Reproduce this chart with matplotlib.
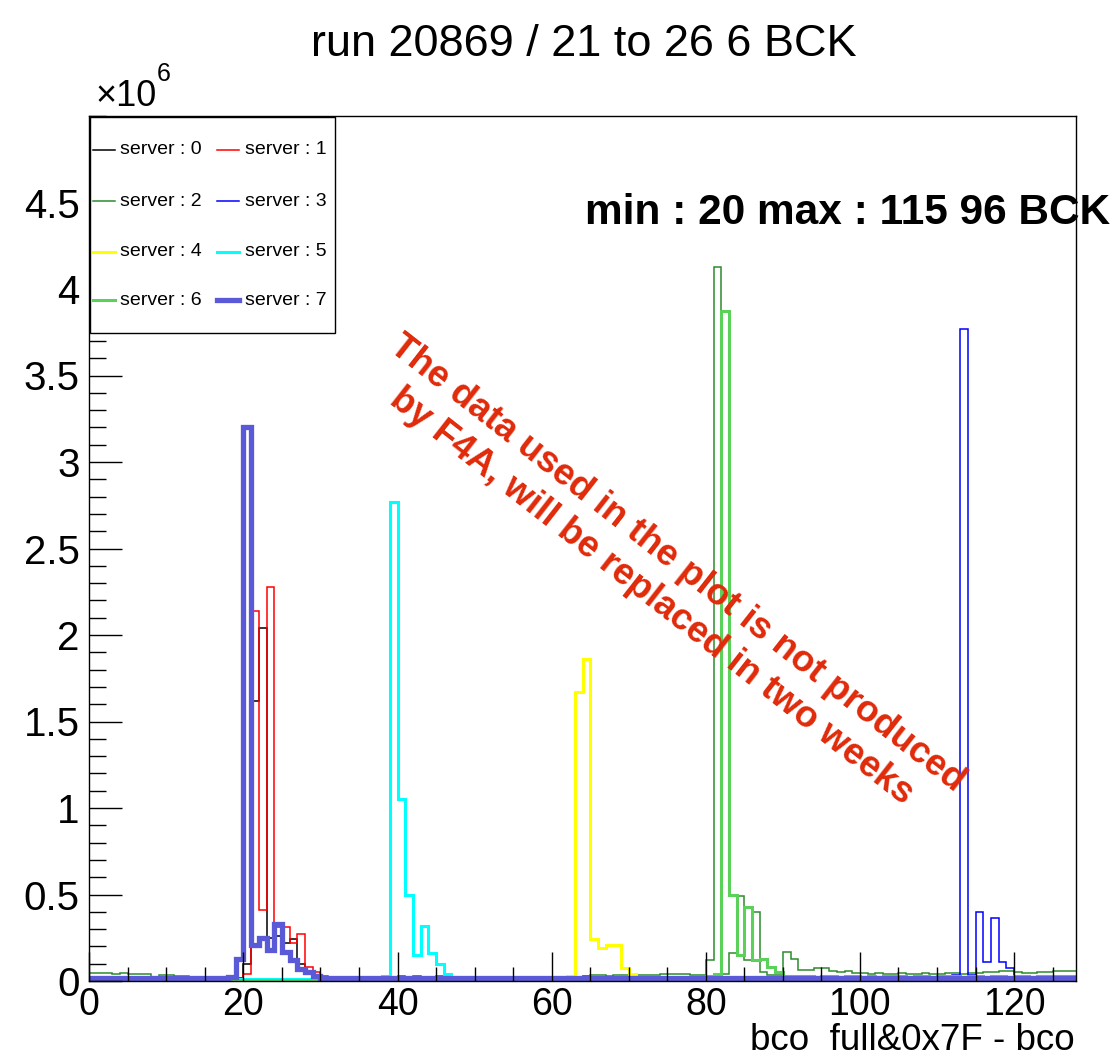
import numpy as np
import matplotlib
matplotlib.use("Agg")
import matplotlib.pyplot as plt
from matplotlib.lines import Line2D
from matplotlib.patches import Rectangle
from matplotlib.ticker import MultipleLocator, FixedLocator

plt.rcParams['font.family'] = ['Liberation Sans', 'DejaVu Sans']

# ---------------- data (values in units of 1e6 entries per bin) ----------------
bin_edges = list(range(0, 129))  # 128 bins of width 1 from 0 to 128

server0 = [
    0.01, 0.01, 0.01, 0.01, 0.01, 0.01, 0.01, 0.01, 0.01, 0.01, 0.01, 0.01, 0.01, 0.01, 0.01, 0.01,
    0.01, 0.01, 0.01, 0.02, 0.10, 1.62, 2.04, 0.25, 0.26, 0.22, 0.24, 0.10, 0.06, 0.03, 0.01, 0.01,
    0.01, 0.01, 0.01, 0.01, 0.01, 0.01, 0.01, 0.01, 0.01, 0.01, 0.01, 0.01, 0.01, 0.01, 0.01, 0.01,
    0.01, 0.01, 0.01, 0.01, 0.01, 0.01, 0.01, 0.01, 0.01, 0.01, 0.01, 0.01, 0.01, 0.01, 0.01, 0.01,
    0.01, 0.01, 0.01, 0.01, 0.01, 0.01, 0.01, 0.01, 0.01, 0.01, 0.01, 0.01, 0.01, 0.01, 0.01, 0.01,
    0.01, 0.01, 0.01, 0.01, 0.01, 0.01, 0.01, 0.01, 0.01, 0.01, 0.01, 0.01, 0.01, 0.01, 0.01, 0.01,
    0.01, 0.01, 0.01, 0.01, 0.01, 0.01, 0.01, 0.01, 0.01, 0.01, 0.01, 0.01, 0.01, 0.01, 0.01, 0.01,
    0.01, 0.01, 0.01, 0.01, 0.01, 0.01, 0.01, 0.01, 0.01, 0.01, 0.01, 0.01, 0.01, 0.01, 0.01, 0.01,
]
server1 = [
    0.01, 0.01, 0.01, 0.01, 0.01, 0.01, 0.01, 0.01, 0.01, 0.01, 0.01, 0.01, 0.01, 0.01, 0.01, 0.01,
    0.01, 0.01, 0.01, 0.02, 0.04, 2.14, 0.41, 2.28, 0.31, 0.31, 0.22, 0.27, 0.08, 0.05, 0.03, 0.02,
    0.02, 0.02, 0.02, 0.02, 0.02, 0.02, 0.02, 0.02, 0.03, 0.02, 0.03, 0.02, 0.02, 0.03, 0.02, 0.02,
    0.02, 0.02, 0.02, 0.02, 0.02, 0.02, 0.02, 0.02, 0.02, 0.02, 0.02, 0.02, 0.02, 0.02, 0.02, 0.02,
    0.03, 0.01, 0.01, 0.01, 0.01, 0.01, 0.01, 0.01, 0.01, 0.01, 0.01, 0.01, 0.01, 0.01, 0.01, 0.01,
    0.01, 0.01, 0.01, 0.01, 0.01, 0.01, 0.01, 0.01, 0.01, 0.01, 0.01, 0.01, 0.01, 0.01, 0.01, 0.01,
    0.01, 0.01, 0.01, 0.01, 0.01, 0.01, 0.01, 0.01, 0.01, 0.01, 0.01, 0.01, 0.01, 0.01, 0.01, 0.01,
    0.01, 0.01, 0.01, 0.01, 0.01, 0.01, 0.01, 0.01, 0.01, 0.01, 0.01, 0.01, 0.01, 0.01, 0.01, 0.01,
]
server2 = [
    0.045, 0.045, 0.045, 0.040, 0.045, 0.040, 0.040, 0.040, 0.020, 0.035, 0.035, 0.030, 0.030, 0.020, 0.020, 0.015,
    0.010, 0.010, 0.010, 0.005, 0.005, 0.005, 0.005, 0.005, 0.005, 0.005, 0.005, 0.005, 0.005, 0.005, 0.005, 0.005,
    0.005, 0.005, 0.005, 0.005, 0.005, 0.005, 0.005, 0.005, 0.005, 0.005, 0.005, 0.005, 0.005, 0.005, 0.005, 0.005,
    0.005, 0.005, 0.005, 0.005, 0.005, 0.005, 0.005, 0.005, 0.005, 0.005, 0.005, 0.005, 0.010, 0.015, 0.020, 0.025,
    0.030, 0.035, 0.035, 0.030, 0.035, 0.035, 0.035, 0.035, 0.035, 0.035, 0.040, 0.040, 0.040, 0.040, 0.035, 0.035,
    0.120, 4.130, 0.040, 0.160, 0.490, 0.120, 0.400, 0.050, 0.035, 0.035, 0.170, 0.130, 0.065, 0.065, 0.075, 0.075,
    0.060, 0.050, 0.055, 0.045, 0.045, 0.040, 0.045, 0.040, 0.040, 0.045, 0.040, 0.040, 0.045, 0.040, 0.040, 0.045,
    0.045, 0.040, 0.045, 0.045, 0.050, 0.050, 0.055, 0.055, 0.050, 0.045, 0.045, 0.050, 0.050, 0.055, 0.055, 0.055,
]
server3 = [
    0.010, 0.010, 0.010, 0.010, 0.010, 0.020, 0.020, 0.020, 0.010, 0.010, 0.010, 0.010, 0.010, 0.010, 0.010, 0.010,
    0.010, 0.010, 0.010, 0.010, 0.010, 0.010, 0.010, 0.010, 0.010, 0.010, 0.010, 0.010, 0.010, 0.010, 0.010, 0.010,
    0.010, 0.010, 0.010, 0.010, 0.010, 0.010, 0.010, 0.010, 0.010, 0.010, 0.010, 0.010, 0.010, 0.010, 0.010, 0.010,
    0.010, 0.010, 0.010, 0.010, 0.010, 0.010, 0.010, 0.010, 0.010, 0.010, 0.010, 0.010, 0.010, 0.010, 0.010, 0.010,
    0.010, 0.010, 0.010, 0.010, 0.010, 0.010, 0.010, 0.010, 0.010, 0.010, 0.010, 0.010, 0.010, 0.010, 0.010, 0.010,
    0.010, 0.010, 0.010, 0.010, 0.010, 0.010, 0.010, 0.010, 0.010, 0.010, 0.010, 0.010, 0.010, 0.010, 0.010, 0.010,
    0.010, 0.010, 0.010, 0.010, 0.010, 0.010, 0.010, 0.010, 0.010, 0.010, 0.010, 0.010, 0.010, 0.010, 0.010, 0.015,
    0.035, 3.770, 0.035, 0.400, 0.110, 0.365, 0.110, 0.073, 0.020, 0.015, 0.015, 0.015, 0.015, 0.015, 0.015, 0.015,
]
server4 = [
    0.005, 0.005, 0.005, 0.005, 0.005, 0.005, 0.005, 0.005, 0.005, 0.005, 0.005, 0.005, 0.005, 0.005, 0.005, 0.005,
    0.005, 0.005, 0.005, 0.005, 0.005, 0.005, 0.005, 0.005, 0.005, 0.005, 0.005, 0.005, 0.005, 0.005, 0.005, 0.005,
    0.005, 0.005, 0.005, 0.005, 0.005, 0.005, 0.005, 0.005, 0.005, 0.005, 0.005, 0.005, 0.005, 0.005, 0.005, 0.005,
    0.005, 0.005, 0.005, 0.005, 0.005, 0.005, 0.005, 0.005, 0.010, 0.010, 0.010, 0.010, 0.010, 0.015, 0.030, 1.670,
    1.860, 0.240, 0.190, 0.210, 0.210, 0.075, 0.040, 0.015, 0.010, 0.010, 0.010, 0.010, 0.010, 0.010, 0.010, 0.010,
    0.010, 0.010, 0.010, 0.010, 0.015, 0.020, 0.015, 0.010, 0.010, 0.010, 0.010, 0.010, 0.010, 0.010, 0.010, 0.010,
    0.010, 0.010, 0.010, 0.010, 0.015, 0.015, 0.010, 0.010, 0.010, 0.010, 0.010, 0.010, 0.010, 0.010, 0.010, 0.010,
    0.010, 0.010, 0.010, 0.010, 0.015, 0.010, 0.010, 0.010, 0.010, 0.010, 0.010, 0.010, 0.010, 0.010, 0.010, 0.010,
]
server5 = [
    0.005, 0.005, 0.005, 0.005, 0.005, 0.005, 0.005, 0.005, 0.005, 0.005, 0.005, 0.005, 0.005, 0.005, 0.005, 0.005,
    0.005, 0.005, 0.005, 0.010, 0.010, 0.010, 0.010, 0.010, 0.010, 0.010, 0.010, 0.010, 0.010, 0.010, 0.010, 0.010,
    0.010, 0.010, 0.010, 0.010, 0.010, 0.010, 0.030, 2.770, 1.050, 0.500, 0.150, 0.320, 0.160, 0.100, 0.040, 0.025,
    0.010, 0.010, 0.010, 0.010, 0.010, 0.010, 0.010, 0.010, 0.010, 0.010, 0.010, 0.010, 0.010, 0.010, 0.010, 0.010,
    0.015, 0.020, 0.020, 0.015, 0.010, 0.010, 0.010, 0.010, 0.010, 0.010, 0.010, 0.010, 0.010, 0.010, 0.010, 0.010,
    0.015, 0.015, 0.015, 0.010, 0.010, 0.010, 0.010, 0.010, 0.010, 0.010, 0.010, 0.010, 0.010, 0.010, 0.010, 0.010,
    0.010, 0.010, 0.010, 0.010, 0.010, 0.010, 0.010, 0.010, 0.010, 0.010, 0.010, 0.010, 0.010, 0.010, 0.010, 0.010,
    0.010, 0.010, 0.010, 0.010, 0.010, 0.010, 0.010, 0.010, 0.010, 0.010, 0.010, 0.010, 0.010, 0.010, 0.010, 0.010,
]
server6 = [
    0.005, 0.005, 0.005, 0.005, 0.005, 0.005, 0.005, 0.005, 0.005, 0.005, 0.005, 0.005, 0.005, 0.005, 0.005, 0.005,
    0.005, 0.005, 0.005, 0.005, 0.005, 0.005, 0.005, 0.005, 0.005, 0.005, 0.005, 0.005, 0.005, 0.005, 0.005, 0.005,
    0.005, 0.005, 0.005, 0.005, 0.005, 0.005, 0.005, 0.005, 0.005, 0.005, 0.005, 0.005, 0.005, 0.005, 0.005, 0.005,
    0.005, 0.005, 0.005, 0.005, 0.005, 0.005, 0.005, 0.005, 0.010, 0.010, 0.010, 0.010, 0.015, 0.015, 0.015, 0.020,
    0.020, 0.020, 0.020, 0.020, 0.020, 0.020, 0.020, 0.020, 0.025, 0.020, 0.025, 0.020, 0.025, 0.025, 0.025, 0.025,
    0.030, 0.040, 3.870, 0.500, 0.150, 0.430, 0.120, 0.127, 0.083, 0.054, 0.030, 0.030, 0.030, 0.030, 0.025, 0.030,
    0.030, 0.025, 0.030, 0.030, 0.025, 0.030, 0.025, 0.030, 0.030, 0.030, 0.025, 0.030, 0.030, 0.025, 0.030, 0.030,
    0.030, 0.025, 0.030, 0.030, 0.025, 0.030, 0.030, 0.025, 0.030, 0.030, 0.025, 0.030, 0.030, 0.030, 0.030, 0.030,
]
server7 = [
    0.020, 0.020, 0.020, 0.020, 0.020, 0.020, 0.020, 0.020, 0.020, 0.020, 0.020, 0.020, 0.020, 0.020, 0.020, 0.020,
    0.020, 0.020, 0.025, 0.130, 3.200, 0.210, 0.250, 0.180, 0.330, 0.170, 0.120, 0.070, 0.050, 0.030, 0.020, 0.020,
    0.020, 0.020, 0.020, 0.020, 0.020, 0.020, 0.020, 0.020, 0.020, 0.020, 0.020, 0.020, 0.020, 0.020, 0.020, 0.020,
    0.020, 0.020, 0.020, 0.020, 0.020, 0.020, 0.020, 0.020, 0.020, 0.020, 0.020, 0.020, 0.020, 0.020, 0.020, 0.020,
    0.020, 0.020, 0.020, 0.020, 0.020, 0.020, 0.020, 0.020, 0.020, 0.020, 0.020, 0.020, 0.020, 0.020, 0.020, 0.020,
    0.015, 0.015, 0.015, 0.015, 0.015, 0.015, 0.015, 0.015, 0.015, 0.015, 0.015, 0.015, 0.015, 0.015, 0.015, 0.015,
    0.015, 0.015, 0.015, 0.015, 0.015, 0.015, 0.015, 0.015, 0.015, 0.015, 0.015, 0.015, 0.015, 0.015, 0.015, 0.015,
    0.015, 0.015, 0.015, 0.015, 0.015, 0.015, 0.015, 0.015, 0.015, 0.015, 0.015, 0.015, 0.015, 0.015, 0.015, 0.015,
]

series = [server0, server1, server2, server3, server4, server5, server6, server7]
labels = ["server : 0", "server : 1", "server : 2", "server : 3",
          "server : 4", "server : 5", "server : 6", "server : 7"]
colors = ["#000000", "#ff0000", "#2e8b2e", "#0000ff",
          "#ffff00", "#00ffff", "#5ad25a", "#5a5ad8"]
widths = [1.1, 1.1, 1.1, 1.1, 2.2, 2.2, 2.2, 3.8]

y_ticks = [0, 0.5, 1, 1.5, 2, 2.5, 3, 3.5, 4, 4.5]
y_ticklabels = ["0", "0.5", "1", "1.5", "2", "2.5", "3", "3.5", "4", "4.5"]
x_ticks = [0, 20, 40, 60, 80, 100, 120]

title = "run 20869 / 21 to 26 6 BCK"
xlabel = "bco  full&0x7F - bco"
info_text = "min : 20 max : 115 96 BCK"
warn_text = "The data used in the plot is not produced\nby F4A, will be replaced in two weeks"

# ---------------- figure ----------------
W, H = 1117, 1056
fig = plt.figure(figsize=(W / 100, H / 100), dpi=100)
ax = fig.add_axes([89.3 / W, 1 - 981 / H, (1075.7 - 89.3) / W, (981 - 116) / H])

for vals, col, lw in zip(series, colors, widths):
    ax.stairs(vals, bin_edges, color=col, linewidth=lw, baseline=None)

ax.set_xlim(0, 128)
ax.set_ylim(0, 5.0)

for sp in ax.spines.values():
    sp.set_linewidth(1.0)
    sp.set_color("black")

ax.xaxis.set_major_locator(FixedLocator(x_ticks))
ax.xaxis.set_minor_locator(MultipleLocator(5))
ax.yaxis.set_major_locator(FixedLocator(y_ticks))
ax.yaxis.set_minor_locator(MultipleLocator(0.1))
ax.set_yticklabels(y_ticklabels)
ax.tick_params(axis="both", which="both", direction="in", top=False, right=False,
               width=1.0, color="black")
ax.tick_params(axis="x", which="major", length=21, labelsize=27, pad=4)
ax.tick_params(axis="x", which="minor", length=10)
ax.tick_params(axis="y", which="major", length=24, labelsize=29, pad=7)
ax.tick_params(axis="y", which="minor", length=12)

# legend box (ROOT TLegend style), drawn in figure pixel coordinates
def fx(px):
    return px / W

def fy(py):
    return 1 - py / H

fig.patches.append(Rectangle((fx(90), fy(333)), fx(335) - fx(90), fy(117) - fy(333),
                             transform=fig.transFigure, facecolor="white",
                             edgecolor="black", linewidth=1.0, zorder=5))
row_y = [150, 201, 252, 300]
col_line_x = [(93, 115), (217, 239)]
col_text_x = [120, 245]
for i, (lab, col, lw) in enumerate(zip(labels, colors, widths)):
    r, c = divmod(i, 2)
    y = fy(row_y[r])
    fig.add_artist(Line2D([fx(col_line_x[c][0]), fx(col_line_x[c][1])], [y, y],
                          transform=fig.transFigure, color=col, linewidth=lw, zorder=6))
    fig.text(fx(col_text_x[c]), y, lab, ha="left", va="center", fontsize=14, zorder=6)

# texts
fig.text(fx(584), fy(45), title, ha="center", va="center", fontsize=32.5)
fig.text(fx(95), fy(96), "×10", ha="left", va="center", fontsize=26)
fig.text(fx(157), fy(74), "6", ha="left", va="center", fontsize=18)
fig.text(fx(1110), fy(213), info_text, ha="right", va="center",
         fontsize=30.5, fontweight="bold")
fig.text(fx(1075), fy(1040), xlabel, ha="right", va="center", fontsize=26.5)
fig.text(fx(664), fy(580), warn_text, ha="center", va="center",
         multialignment="center", rotation=-38, rotation_mode="anchor",
         fontsize=26.5, fontweight="bold", color="#e02a0a", linespacing=1.25)

fig.savefig("out.png", dpi=100)
